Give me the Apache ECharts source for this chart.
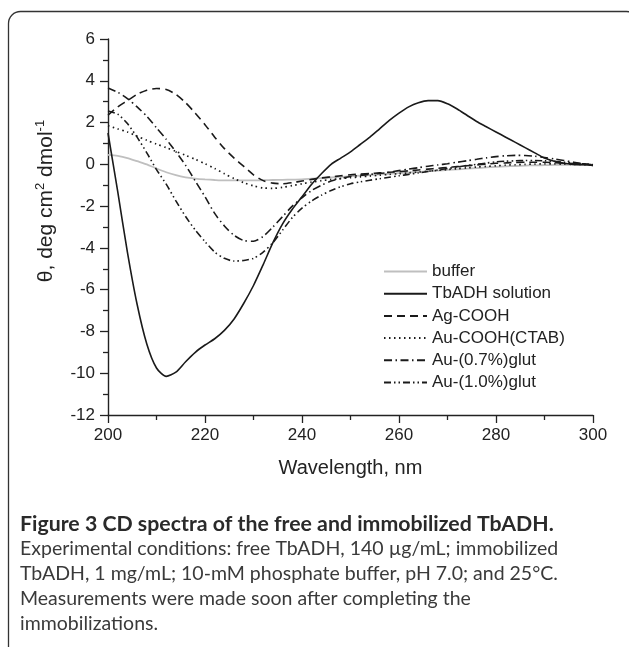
<!DOCTYPE html>
<html><head><meta charset="utf-8">
<script src="https://cdn.jsdelivr.net/npm/echarts@6/dist/echarts.min.js"></script>
<style>html,body{margin:0;padding:0;background:#fff}#c{width:629px;height:647px}</style>
</head><body><div id="c"></div>
<script>
const wavelengths = [200,202,204,206,208,210,212,214,216,218,220,222,224,226,228,230,232,234,236,238,240,242,244,246,248,250,252,254,256,258,260,262,264,266,268,270,272,274,276,278,280,282,284,286,288,290,292,294,296,298,300];
const bufferVals = [0.45,0.4,0.3,0.15,0.0,-0.2,-0.38,-0.52,-0.62,-0.68,-0.72,-0.75,-0.77,-0.77,-0.77,-0.77,-0.76,-0.75,-0.74,-0.73,-0.72,-0.69,-0.66,-0.63,-0.6,-0.57,-0.54,-0.51,-0.48,-0.45,-0.42,-0.39,-0.36,-0.33,-0.3,-0.27,-0.24,-0.21,-0.18,-0.15,-0.12,-0.1,-0.08,-0.06,-0.05,-0.04,-0.03,-0.02,-0.02,-0.02,-0.02];
const tbadhVals = [1.5,-1.3,-4.2,-6.7,-8.6,-9.75,-10.15,-9.95,-9.45,-9.0,-8.65,-8.35,-7.95,-7.4,-6.65,-5.8,-4.8,-3.75,-2.85,-2.15,-1.55,-0.95,-0.45,0.0,0.3,0.6,0.95,1.3,1.7,2.1,2.45,2.75,2.95,3.05,3.05,2.9,2.65,2.35,2.05,1.8,1.55,1.3,1.05,0.8,0.55,0.3,0.15,0.05,0.0,-0.02,-0.05];
const agCoohVals = [2.35,2.75,3.05,3.35,3.55,3.63,3.58,3.35,2.95,2.45,1.9,1.3,0.75,0.3,-0.1,-0.5,-0.78,-0.9,-0.93,-0.88,-0.8,-0.72,-0.65,-0.6,-0.55,-0.5,-0.47,-0.44,-0.41,-0.38,-0.35,-0.31,-0.27,-0.23,-0.19,-0.15,-0.11,-0.07,-0.03,0.01,0.05,0.07,0.09,0.1,0.1,0.1,0.08,0.06,0.04,0.02,0.0];
const auCoohVals = [1.85,1.7,1.55,1.35,1.15,0.97,0.8,0.62,0.43,0.24,0.03,-0.2,-0.45,-0.68,-0.88,-1.03,-1.13,-1.15,-1.1,-1.02,-0.93,-0.85,-0.78,-0.73,-0.68,-0.64,-0.6,-0.56,-0.52,-0.48,-0.45,-0.41,-0.37,-0.33,-0.29,-0.25,-0.21,-0.17,-0.13,-0.1,-0.07,-0.04,-0.02,0.0,0.01,0.02,0.02,0.01,0.0,-0.01,-0.02];
const au07Vals = [3.65,3.45,3.15,2.75,2.3,1.75,1.2,0.6,-0.05,-0.8,-1.55,-2.35,-2.95,-3.4,-3.65,-3.68,-3.45,-3.0,-2.5,-2.0,-1.6,-1.25,-1.0,-0.8,-0.68,-0.58,-0.53,-0.48,-0.44,-0.38,-0.3,-0.23,-0.16,-0.09,-0.03,0.03,0.1,0.17,0.24,0.31,0.37,0.41,0.43,0.42,0.39,0.33,0.26,0.18,0.1,0.02,-0.05];
const au10Vals = [2.55,2.4,1.95,1.3,0.55,-0.25,-0.95,-1.75,-2.5,-3.15,-3.7,-4.2,-4.5,-4.63,-4.6,-4.5,-4.2,-3.75,-3.15,-2.55,-2.1,-1.75,-1.48,-1.25,-1.07,-0.93,-0.84,-0.76,-0.69,-0.62,-0.55,-0.48,-0.41,-0.34,-0.27,-0.2,-0.13,-0.06,0.0,0.06,0.12,0.15,0.17,0.18,0.18,0.17,0.14,0.1,0.06,0.02,-0.02];
const seriesNames = ['buffer','TbADH solution','Ag-COOH','Au-COOH(CTAB)','Au-(0.7%)glut','Au-(1.0%)glut'];
const seriesValues = [bufferVals, tbadhVals, agCoohVals, auCoohVals, au07Vals, au10Vals];
const captionTitle = 'Figure 3 CD spectra of the free and immobilized TbADH.';
const captionLines = [
  'Experimental conditions: free TbADH, 140 \u00b5g/mL; immobilized',
  'TbADH, 1 mg/mL; 10-mM phosphate buffer, pH 7.0; and 25\u00b0C.',
  'Measurements were made soon after completing the',
  'immobilizations.'
];

const styles = [
  {color:'#bfbfbf', width:1.8, type:'solid'},
  {color:'#1a1a1a', width:1.6, type:'solid'},
  {color:'#1a1a1a', width:1.6, type:[8,5]},
  {color:'#1a1a1a', width:1.7, type:[1.5,3.5]},
  {color:'#1a1a1a', width:1.6, type:[8,3.5,1.5,3.5]},
  {color:'#1a1a1a', width:1.6, type:[7,3,1.5,3,1.5,3]}
];

const series = seriesNames.map((name, i) => ({
  name: name,
  type: 'line',
  data: wavelengths.map((w, k) => [w, seriesValues[i][k]]),
  showSymbol: false,
  symbol: 'none',
  smooth: 0.25,
  z: i === 0 ? 1 : 2,
  lineStyle: styles[i],
  itemStyle: {color: styles[i].color},
  emphasis: {disabled: true}
}));

const FONT = 'Liberation Sans, Arial, sans-serif';
const chart = echarts.init(document.getElementById('c'), null, {renderer: 'canvas'});
const graphics = [
  {type:'rect', shape:{x:8.5, y:11.5, width:630, height:700, r:12}, style:{fill:'none', stroke:'#333', lineWidth:1.3}, silent:true},
  {type:'text', left:20, top:514, style:{text:captionTitle, font:'bold 21.3px Lato, "Open Sans", sans-serif', fill:'#2a2a2a'}}
];
captionLines.forEach((t, i) => {
  graphics.push({type:'text', left:20, top:539 + i*25, style:{text:t, font:'19.5px Lato, "Open Sans", sans-serif', fill:'#3a3a3a'}});
});

chart.setOption({
  animation: false,
  backgroundColor: '#fff',
  grid: {left:108, right:36, top:39, bottom:232, containLabel:false},
  legend: {
    orient: 'vertical', left: 378, top: 258,
    itemWidth: 43, itemHeight: 16, itemGap: 5.2,
    itemStyle: {opacity: 0},
    textStyle: {fontSize:17, lineHeight:16, color:'#222', fontFamily: FONT},
    data: seriesNames
  },
  xAxis: {
    type:'value', min:200, max:300, interval:20,
    name:'Wavelength, nm', nameLocation:'middle', nameGap:43,
    nameTextStyle:{fontSize:20, color:'#222', fontFamily:FONT},
    axisLine:{onZero:false, lineStyle:{color:'#222', width:1.4}},
    axisTick:{show:true, length:8, lineStyle:{color:'#222', width:1.3}},
    minorTick:{show:true, splitNumber:2, length:5, lineStyle:{color:'#222', width:1.3}},
    axisLabel:{fontSize:17, color:'#222', fontFamily:FONT, margin:12},
    splitLine:{show:false}
  },
  yAxis: {
    type:'value', min:-12, max:6, interval:2,
    name:'{n|\u03b8, deg cm}{sup|2}{n| dmol}{sup|-1}', nameLocation:'middle', nameGap:50,
    nameTextStyle:{fontSize:21, color:'#222', fontFamily:FONT, padding:[0,0,0,52],
      rich:{n:{fontSize:21, color:'#222', fontFamily:FONT, lineHeight:24}, sup:{fontSize:13, color:'#222', fontFamily:FONT, verticalAlign:'top', lineHeight:12}}},
    axisLine:{onZero:false, lineStyle:{color:'#222', width:1.4}},
    axisTick:{show:true, length:8, lineStyle:{color:'#222', width:1.3}},
    minorTick:{show:true, splitNumber:2, length:5, lineStyle:{color:'#222', width:1.3}},
    axisLabel:{fontSize:17, color:'#222', fontFamily:FONT, margin:13},
    splitLine:{show:false}
  },
  graphic: graphics,
  series: series
});
</script>
</body></html>
